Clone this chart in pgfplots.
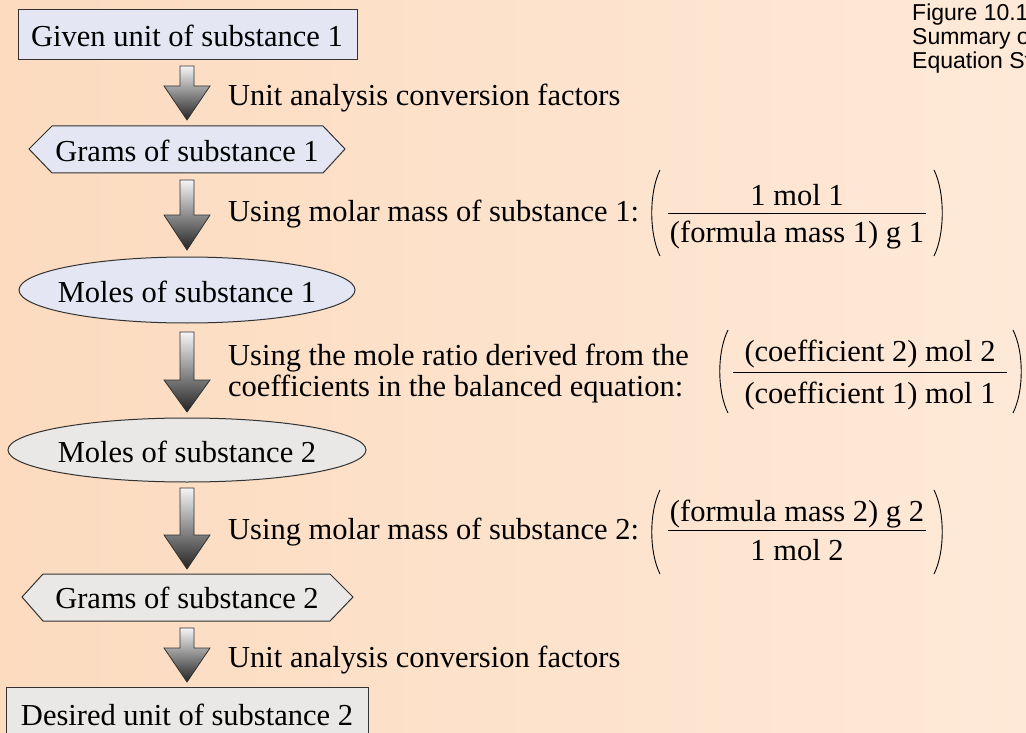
\documentclass[border=0pt]{standalone}
\usepackage{fontspec}
\setmainfont{Liberation Serif}
\newfontfamily\capfont{Liberation Sans}
\usepackage{pgfplots}
\pgfplotsset{compat=1.18}
\definecolor{bgL}{RGB}{252,219,191}
\definecolor{bgR}{RGB}{254,233,216}
\definecolor{lav}{RGB}{228,231,243}
\definecolor{gry}{RGB}{233,232,231}
\definecolor{edge}{RGB}{50,50,50}
\definecolor{arrTop}{RGB}{245,245,245}
\definecolor{arrBot}{RGB}{35,35,35}
\newcommand{\fs}{\fontsize{30.5}{35}\selectfont}
\newcommand{\dnarrow}[3]{%
  \draw[edge, line width=0.8pt, top color=arrTop, bottom color=arrBot]
  (axis cs:180,#1) -- (axis cs:194,#1) -- (axis cs:194,#2) -- (axis cs:210,#2)
  -- (axis cs:187,#3) -- (axis cs:164,#2) -- (axis cs:180,#2) -- cycle;}
% left paren x, right paren x, top, bottom
\newcommand{\parens}[4]{%
  \draw[black, line width=0.9pt] (axis cs:#1+8,#3) .. controls (axis cs:#1-3,#3+22) and (axis cs:#1-3,#4-22) .. (axis cs:#1+8,#4);
  \draw[black, line width=0.9pt] (axis cs:#2-8,#3) .. controls (axis cs:#2+3,#3+22) and (axis cs:#2+3,#4-22) .. (axis cs:#2-8,#4);}
\begin{document}
\begin{tikzpicture}
\begin{axis}[at={(0,0)}, anchor=south west, width=1026pt, height=733pt,
  scale only axis, xmin=0, xmax=1026, ymin=0, ymax=733, y dir=reverse,
  hide axis, clip=false]
\begin{scope}
\clip (axis cs:0,0) rectangle (axis cs:1026,733);
\fill[left color=bgL, right color=bgR] (axis cs:-1,-1) rectangle (axis cs:1027,734);

% caption
\node[anchor=base west, inner sep=0, font=\capfont\fontsize{23}{26}\selectfont] at (axis cs:912,21) {Figure 10.1};
\node[anchor=base west, inner sep=0, font=\capfont\fontsize{23}{26}\selectfont] at (axis cs:912,45) {Summary of};
\node[anchor=base west, inner sep=0, font=\capfont\fontsize{23}{26}\selectfont] at (axis cs:912,69) {Equation Stoichiometry};

% box 1
\draw[edge, line width=1pt, fill=lav] (axis cs:18,10) rectangle (axis cs:357,60);
\node[anchor=base, inner sep=0, font=\fs] at (axis cs:187,47) {Given unit of substance 1};
\dnarrow{66}{86}{120}
\node[anchor=base west, inner sep=0, font=\fs] at (axis cs:228,106) {Unit analysis conversion factors};

% hexagon 1
\draw[edge, line width=1pt, fill=lav] (axis cs:29,149) -- (axis cs:52,126) -- (axis cs:323,126) -- (axis cs:345,149) -- (axis cs:323,173) -- (axis cs:52,173) -- cycle;
\node[anchor=base, inner sep=0, font=\fs] at (axis cs:187,161) {Grams of substance 1};
\dnarrow{180}{215}{250}
\node[anchor=base west, inner sep=0, font=\fs] at (axis cs:228,222) {Using molar mass of substance 1:};
\parens{652}{942}{170}{256}
\draw[black, line width=0.9pt] (axis cs:668,213) -- (axis cs:926,213);
\node[anchor=base, inner sep=0, font=\fs] at (axis cs:797,205) {1 mol 1};
\node[anchor=base, inner sep=0, font=\fs] at (axis cs:797,242) {(formula mass 1) g 1};

% ellipse 1
\draw[edge, line width=1pt, fill=lav] (axis cs:187,290) ellipse [x radius=168pt, y radius=33pt];
\node[anchor=base, inner sep=0, font=\fs] at (axis cs:187,302) {Moles of substance 1};
\dnarrow{332}{380}{412}
\node[anchor=base west, inner sep=0, font=\fs] at (axis cs:228,365) {Using the mole ratio derived from the};
\node[anchor=base west, inner sep=0, font=\fs] at (axis cs:228,396) {coefficients in the balanced equation:};
\parens{720}{1021}{330}{413}
\draw[black, line width=0.9pt] (axis cs:733,372) -- (axis cs:1007,372);
\node[anchor=base, inner sep=0, font=\fs] at (axis cs:870,361) {(coefficient 2) mol 2};
\node[anchor=base, inner sep=0, font=\fs] at (axis cs:870,403) {(coefficient 1) mol 1};

% ellipse 2
\draw[edge, line width=1pt, fill=gry] (axis cs:187,450) ellipse [x radius=179pt, y radius=32pt];
\node[anchor=base, inner sep=0, font=\fs] at (axis cs:187,462) {Moles of substance 2};
\dnarrow{488}{535}{569}
\node[anchor=base west, inner sep=0, font=\fs] at (axis cs:228,539) {Using molar mass of substance 2:};
\parens{652}{942}{490}{574}
\draw[black, line width=0.9pt] (axis cs:668,530) -- (axis cs:926,530);
\node[anchor=base, inner sep=0, font=\fs] at (axis cs:797,521) {(formula mass 2) g 2};
\node[anchor=base, inner sep=0, font=\fs] at (axis cs:797,560) {1 mol 2};

% hexagon 2
\draw[edge, line width=1pt, fill=gry] (axis cs:22,597) -- (axis cs:43,574) -- (axis cs:330,574) -- (axis cs:353,597) -- (axis cs:330,621) -- (axis cs:43,621) -- cycle;
\node[anchor=base, inner sep=0, font=\fs] at (axis cs:187,608) {Grams of substance 2};
\dnarrow{628}{648}{682}
\node[anchor=base west, inner sep=0, font=\fs] at (axis cs:228,667) {Unit analysis conversion factors};

% box 2
\draw[edge, line width=1pt, fill=gry] (axis cs:6,687) rectangle (axis cs:368,745);
\node[anchor=base, inner sep=0, font=\fs] at (axis cs:187,725) {Desired unit of substance 2};
\end{scope}
\end{axis}
\pgfresetboundingbox
\path[use as bounding box] (0,0) rectangle (1026pt,733pt);
\end{tikzpicture}
\end{document}
